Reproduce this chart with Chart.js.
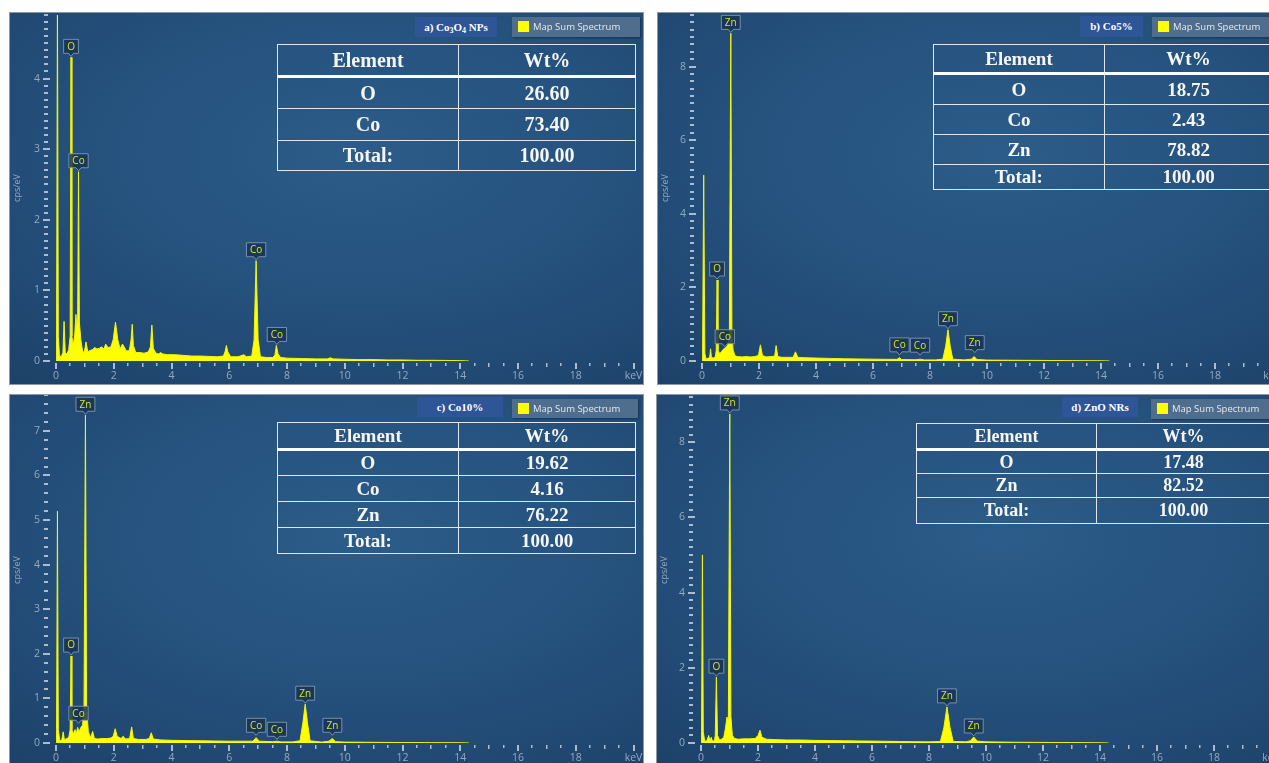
<!DOCTYPE html>
<html lang="en">
<head>
<meta charset="UTF-8">
<title>EDS spectra</title>
<script src="https://cdn.jsdelivr.net/npm/chart.js"></script>
<style>
  html, body { margin: 0; padding: 0; background: #fff; width: 1269px; height: 763px; overflow: hidden; }
  .panel {
    position: absolute; height: 371px; overflow: hidden;
    background: radial-gradient(ellipse 85% 80% at 55% 38%, #2c5c89 0%, #25517d 50%, #1d426a 100%);
    box-shadow: 0 0 0 1px #8e98a3;
  }
  .panel canvas { position: absolute; left: 0; top: 0; }
  .badge {
    position: absolute; height: 20px; background: #2e5596; color: #fff;
    font: bold 11px "Liberation Serif", serif; line-height: 20px; text-align: center;
  }
  .badge sub { font-size: 8px; vertical-align: -2px; line-height: 0; }
  .legend {
    position: absolute; height: 20px; background: #4f6d8d; color: #e4eaf1;
    font: 9.5px "Open Sans", sans-serif; line-height: 20px; box-shadow: 1px 1px 2px rgba(0,0,0,0.35);
  }
  .legend i { position: absolute; left: 6px; top: 4px; width: 11px; height: 11px; background: #ffff00; }
  .legend span { position: absolute; left: 21px; }
  table.wt {
    position: absolute; border-collapse: collapse; color: #f6f6f6;
    font-family: "Liberation Serif", serif; font-weight: bold; text-align: center;
  }
  table.wt td { border: 1.5px solid #dfe6ee; padding: 0; }
  table.wt tr.head td { border-bottom: 3.5px solid #ffffff; }
</style>
</head>
<body>

<div class="panel" id="pa" style="left:10px;top:13px;width:633px;">
  <canvas id="ca" width="633" height="371"></canvas>
  <div class="badge" style="left:405px;top:4px;width:82px;">a) Co<sub>3</sub>O<sub>4</sub> NPs</div>
  <div class="legend" style="left:502px;top:4px;width:128px;"><i></i><span>Map Sum Spectrum</span></div>
</div>
<div class="panel" id="pb" style="left:658px;top:13px;width:625px;">
  <canvas id="cb" width="625" height="371"></canvas>
  <div class="badge" style="left:422px;top:3px;width:63px;height:21px;">b) Co5%</div>
  <div class="legend" style="left:494px;top:4px;width:130px;"><i></i><span>Map Sum Spectrum</span></div>
</div>
<div class="panel" id="pc" style="left:10px;top:395px;width:633px;">
  <canvas id="cc" width="633" height="371"></canvas>
  <div class="badge" style="left:407px;top:2px;width:86px;">c) Co10%</div>
  <div class="legend" style="left:502px;top:4px;width:126px;height:19px;"><i></i><span>Map Sum Spectrum</span></div>
</div>
<div class="panel" id="pd" style="left:657px;top:395px;width:626px;">
  <canvas id="cd" width="626" height="371"></canvas>
  <div class="badge" style="left:405px;top:2px;width:76px;">d) ZnO NRs</div>
  <div class="legend" style="left:494px;top:4px;width:130px;"><i></i><span>Map Sum Spectrum</span></div>
</div>

<script>
// spectra: [keV, cps/eV]
const specA = [[0,0],[0.02,0.3],[0.05,5.3],[0.08,0.35],[0.12,0.08],[0.18,0.06],[0.24,0.12],[0.28,0.56],[0.32,0.12],
  [0.38,0.1],[0.44,0.16],[0.49,0.35],[0.52,4.3],[0.55,0.35],[0.6,0.22],[0.65,0.38],[0.69,0.66],[0.72,0.5],[0.75,0.55],
  [0.78,2.68],[0.81,0.55],[0.86,0.3],[0.92,0.14],[0.98,0.12],[1.04,0.27],[1.1,0.13],[1.18,0.15],[1.26,0.16],[1.34,0.19],
  [1.42,0.17],[1.5,0.18],[1.58,0.2],[1.66,0.17],[1.72,0.24],[1.8,0.19],[1.9,0.2],[1.98,0.3],[2.06,0.55],[2.14,0.3],
  [2.22,0.17],[2.3,0.24],[2.36,0.2],[2.44,0.14],[2.54,0.15],[2.6,0.3],[2.64,0.52],[2.68,0.22],[2.76,0.12],[2.9,0.12],
  [3.05,0.11],[3.2,0.13],[3.27,0.2],[3.32,0.51],[3.37,0.18],[3.46,0.11],[3.56,0.1],[3.62,0.12],[3.7,0.1],[3.85,0.09],
  [4.1,0.09],[4.4,0.08],[4.7,0.07],[5.0,0.07],[5.3,0.065],[5.6,0.06],[5.8,0.07],[5.86,0.14],[5.9,0.22],[5.95,0.13],
  [6.05,0.06],[6.3,0.06],[6.45,0.08],[6.5,0.09],[6.6,0.06],[6.78,0.07],[6.86,0.3],[6.93,1.42],[7.0,0.3],[7.08,0.06],
  [7.3,0.05],[7.5,0.05],[7.58,0.08],[7.63,0.22],[7.69,0.1],[7.78,0.05],[8.0,0.04],[8.5,0.035],[9.0,0.03],[9.4,0.03],
  [9.5,0.045],[9.6,0.03],[10.0,0.025],[10.5,0.02],[11.0,0.02],[11.5,0.015],[12.0,0.015],[12.5,0.01],[13.0,0.01],
  [13.5,0.008],[14.0,0.005],[14.3,0]];
const specB = [[0,0],[0.02,0.2],[0.06,5.05],[0.1,0.2],[0.15,0.05],[0.22,0.08],[0.27,0.1],[0.3,0.33],[0.33,0.1],
  [0.4,0.08],[0.47,0.12],[0.5,0.3],[0.53,2.2],[0.56,0.3],[0.62,0.2],[0.68,0.25],[0.75,0.32],[0.8,0.35],[0.86,0.38],
  [0.91,0.45],[0.96,0.75],[1.01,8.9],[1.05,0.8],[1.09,0.3],[1.16,0.14],[1.25,0.12],[1.4,0.11],[1.55,0.12],[1.7,0.11],
  [1.85,0.12],[1.98,0.15],[2.05,0.44],[2.12,0.15],[2.25,0.11],[2.4,0.12],[2.55,0.13],[2.6,0.42],[2.66,0.12],[2.8,0.1],
  [3.0,0.1],[3.2,0.1],[3.28,0.25],[3.36,0.1],[3.6,0.09],[4.0,0.08],[4.5,0.07],[5.0,0.06],[5.5,0.055],[6.0,0.05],
  [6.5,0.045],[6.85,0.045],[6.93,0.09],[7.0,0.04],[7.5,0.035],[7.65,0.05],[7.8,0.03],[8.2,0.03],[8.45,0.05],[8.55,0.4],
  [8.63,0.85],[8.71,0.4],[8.8,0.05],[9.2,0.03],[9.45,0.05],[9.55,0.12],[9.65,0.04],[10.0,0.025],[11.0,0.02],
  [12.0,0.015],[13.0,0.01],[14.0,0.005],[14.3,0]];
const specC = [[0,0],[0.02,0.3],[0.05,5.2],[0.08,0.3],[0.13,0.05],[0.2,0.07],[0.25,0.25],[0.29,0.07],[0.36,0.1],
  [0.44,0.12],[0.49,0.3],[0.52,1.95],[0.55,0.3],[0.6,0.2],[0.66,0.3],[0.7,0.2],[0.75,0.35],[0.8,0.25],[0.86,0.35],
  [0.92,0.4],[0.97,0.8],[1.02,7.35],[1.06,0.8],[1.12,0.25],[1.2,0.12],[1.27,0.26],[1.33,0.1],[1.45,0.09],[1.6,0.1],
  [1.75,0.1],[1.9,0.11],[1.98,0.15],[2.05,0.32],[2.12,0.15],[2.25,0.1],[2.33,0.15],[2.4,0.09],[2.55,0.1],[2.62,0.36],
  [2.68,0.1],[2.85,0.08],[3.1,0.08],[3.23,0.1],[3.3,0.23],[3.37,0.09],[3.6,0.07],[4.0,0.06],[4.5,0.055],[5.0,0.05],
  [5.5,0.045],[6.0,0.04],[6.5,0.04],[6.82,0.04],[6.93,0.12],[7.04,0.04],[7.5,0.03],[7.65,0.04],[7.8,0.025],[8.2,0.025],
  [8.45,0.05],[8.55,0.45],[8.63,0.87],[8.71,0.45],[8.8,0.05],[9.2,0.02],[9.45,0.04],[9.57,0.1],[9.68,0.03],[10.0,0.02],
  [11.0,0.015],[12.0,0.01],[13.0,0.008],[14.0,0.005],[14.3,0]];
const specD = [[0,0],[0.02,0.3],[0.05,5.0],[0.08,0.3],[0.13,0.05],[0.2,0.05],[0.27,0.2],[0.31,0.06],[0.36,0.15],
  [0.4,0.05],[0.47,0.06],[0.5,0.2],[0.54,1.75],[0.58,0.2],[0.65,0.08],[0.72,0.1],[0.8,0.15],[0.86,0.4],[0.91,0.69],
  [0.96,0.6],[1.01,8.75],[1.05,0.7],[1.1,0.2],[1.18,0.12],[1.3,0.1],[1.5,0.11],[1.7,0.11],[1.9,0.12],[2.0,0.2],
  [2.07,0.34],[2.14,0.15],[2.3,0.1],[2.6,0.09],[3.0,0.08],[3.5,0.08],[4.0,0.07],[4.5,0.065],[5.0,0.06],[5.5,0.055],
  [6.0,0.05],[6.5,0.045],[7.0,0.04],[7.5,0.035],[8.0,0.03],[8.4,0.04],[8.52,0.4],[8.63,0.96],[8.74,0.4],[8.85,0.04],
  [9.3,0.03],[9.45,0.06],[9.57,0.16],[9.69,0.05],[10.0,0.03],[11.0,0.02],[12.0,0.015],[13.0,0.01],[14.0,0.005],[14.3,0]];

// peak markers: [element, keV, cps/eV at pointer tip]
const peaksA = [['O',0.52,4.3],['Co',0.78,2.68],['Co',6.93,1.42],['Co',7.65,0.22]];
const peaksB = [['Zn',1.01,8.9],['O',0.53,2.2],['Co',0.8,0.36],['Co',6.93,0.14],['Co',7.65,0.13],['Zn',8.63,0.85],['Zn',9.57,0.2]];
const peaksC = [['Zn',1.02,7.35],['O',0.52,1.95],['Co',0.78,0.42],['Co',6.93,0.15],['Co',7.65,0.06],['Zn',8.63,0.87],['Zn',9.57,0.15]];
const peaksD = [['Zn',1.01,8.75],['O',0.54,1.75],['Zn',8.63,0.96],['Zn',9.57,0.16]];

// axis tick labels
const xTickValues = [0, 2, 4, 6, 8, 10, 12, 14, 16, 18, 20];
const xTickLabels = ['0', '2', '4', '6', '8', '10', '12', '14', '16', '18', 'keV'];

// composition tables
const elemA = ['O', 'Co', 'Total:'];        const wtA = ['26.60', '73.40', '100.00'];
const elemB = ['O', 'Co', 'Zn', 'Total:'];  const wtB = ['18.75', '2.43', '78.82', '100.00'];
const elemC = ['O', 'Co', 'Zn', 'Total:'];  const wtC = ['19.62', '4.16', '76.22', '100.00'];
const elemD = ['O', 'Zn', 'Total:'];        const wtD = ['17.48', '82.52', '100.00'];

const tickColor = 'rgba(205,218,232,0.8)';
const labelColor = '#94a9bf';

function makeTable(panelId, elems, wts, box) {
  const t = document.createElement('table');
  t.className = 'wt';
  t.style.left = box.left + 'px';
  t.style.top = box.top + 'px';
  t.style.width = box.width + 'px';
  t.style.fontSize = box.font + 'px';
  const rows = [['Element', 'Wt%']].concat(elems.map((e, i) => [e, wts[i]]));
  rows.forEach((r, i) => {
    const tr = document.createElement('tr');
    if (i === 0) tr.className = 'head';
    tr.style.height = box.rows[i] + 'px';
    r.forEach((c, j) => {
      const td = document.createElement('td');
      td.textContent = c;
      if (j === 0) td.style.width = box.col1 + 'px';
      tr.appendChild(td);
    });
    t.appendChild(tr);
  });
  document.getElementById(panelId).appendChild(t);
}

makeTable('pa', elemA, wtA, {left: 267, top: 31, width: 359, col1: 180, font: 20, rows: [32, 32, 32, 30]});
makeTable('pb', elemB, wtB, {left: 275, top: 31, width: 340, col1: 170, font: 19, rows: [29, 31, 30, 30, 25]});
makeTable('pc', elemC, wtC, {left: 267, top: 27, width: 359, col1: 180, font: 19, rows: [27, 26, 26, 26, 26]});
makeTable('pd', elemD, wtD, {left: 259, top: 28, width: 355, col1: 179, font: 18, rows: [26, 24, 24, 26]});

// tick marks, tick labels and peak labels
const edsDecor = {
  id: 'edsDecor',
  afterDatasetsDraw(chart, args, opts) {
    const {ctx, chartArea: a, scales: {x, y}} = chart;
    ctx.save();
    ctx.fillStyle = tickColor;
    const n = Math.round(y.max / opts.minor);
    for (let i = 0; i <= n; i++) {
      const v = i * opts.minor;
      const py = Math.round(y.getPixelForValue(v));
      const q = v / opts.major;
      const major = Math.abs(q - Math.round(q)) < 1e-6;
      if (major) ctx.fillRect(a.left - 13, py - 1, 7, 2);
      else ctx.fillRect(a.left - 12, py - 1, 4, 2);
    }
    for (let i = 0; i <= 40; i++) {
      const px = Math.round(x.getPixelForValue(i * 0.5));
      if (i % 4 === 0) ctx.fillRect(px - 1, a.bottom + 2, 2, 6);
      else if (i % 2 === 0) ctx.fillRect(px - 1, a.bottom + 2, 1.5, 4);
      else ctx.fillRect(px - 1, a.bottom + 2, 1.5, 3);
    }

    ctx.fillStyle = labelColor;
    ctx.font = '10.5px "Open Sans", sans-serif';
    ctx.textBaseline = 'middle';
    ctx.textAlign = 'right';
    for (let v = 0; v <= y.max + 1e-9; v += opts.major) {
      ctx.fillText(String(v), a.left - 16, y.getPixelForValue(v));
    }
    ctx.textAlign = 'center';
    xTickValues.forEach((v, i) => {
      ctx.fillText(xTickLabels[i], x.getPixelForValue(v), a.bottom + 15);
    });

    ctx.font = '10px "Open Sans", sans-serif';
    opts.peaks.forEach(([el, kev, tip]) => {
      const px = x.getPixelForValue(kev);
      const py = y.getPixelForValue(tip) - 1;
      const w = ctx.measureText(el).width + 7;
      const h = 14;
      const top = py - 3 - h;
      ctx.beginPath();
      ctx.moveTo(px - w / 2, top);
      ctx.lineTo(px + w / 2, top);
      ctx.lineTo(px + w / 2, top + h);
      ctx.lineTo(px + 2.5, top + h);
      ctx.lineTo(px, py);
      ctx.lineTo(px - 2.5, top + h);
      ctx.lineTo(px - w / 2, top + h);
      ctx.closePath();
      ctx.fillStyle = 'rgba(24,52,84,0.85)';
      ctx.fill();
      ctx.strokeStyle = 'rgba(140,162,186,0.8)';
      ctx.lineWidth = 1;
      ctx.stroke();
      ctx.fillStyle = '#dde324';
      ctx.fillText(el, px, top + h / 2 + 0.5);
    });
    ctx.restore();
  }
};

function makeChart(id, spec, peaks, yMax, labelStep, minorStep, yWidth, rightPad) {
  new Chart(document.getElementById(id), {
    type: 'line',
    data: {
      datasets: [{
        data: spec.map(p => ({x: p[0], y: p[1]})),
        fill: 'origin',
        backgroundColor: '#ffff00',
        borderColor: '#f4f410',
        borderWidth: 1,
        pointRadius: 0,
        tension: 0
      }]
    },
    options: {
      responsive: false,
      devicePixelRatio: 1,
      animation: false,
      layout: {padding: {top: 2, right: rightPad, left: 0, bottom: 0}},
      plugins: {
        legend: {display: false},
        tooltip: {enabled: false},
        edsDecor: {peaks: peaks, minor: minorStep, major: labelStep}
      },
      scales: {
        x: {
          type: 'linear', min: 0, max: 20,
          grid: {display: false}, border: {display: false},
          afterFit: s => { s.height = 23; },
          ticks: {display: false}
        },
        y: {
          min: 0, max: yMax,
          grid: {display: false}, border: {display: false},
          afterFit: s => { s.width = yWidth; },
          title: {display: true, text: 'cps/eV', color: labelColor, font: {family: 'Open Sans', size: 9}, padding: {top: 2, bottom: 0}},
          ticks: {display: false}
        }
      }
    },
    plugins: [edsDecor]
  });
}

makeChart('ca', specA, peaksA, 4.9, 1, 0.1, 46, 9.5);
makeChart('cb', specB, peaksB, 9.4, 2, 0.2, 44, 11);
makeChart('cc', specC, peaksC, 7.76, 1, 0.2, 46, 9.5);
makeChart('cd', specD, peaksD, 9.2, 2, 0.2, 44, 12);
</script>
</body>
</html>
